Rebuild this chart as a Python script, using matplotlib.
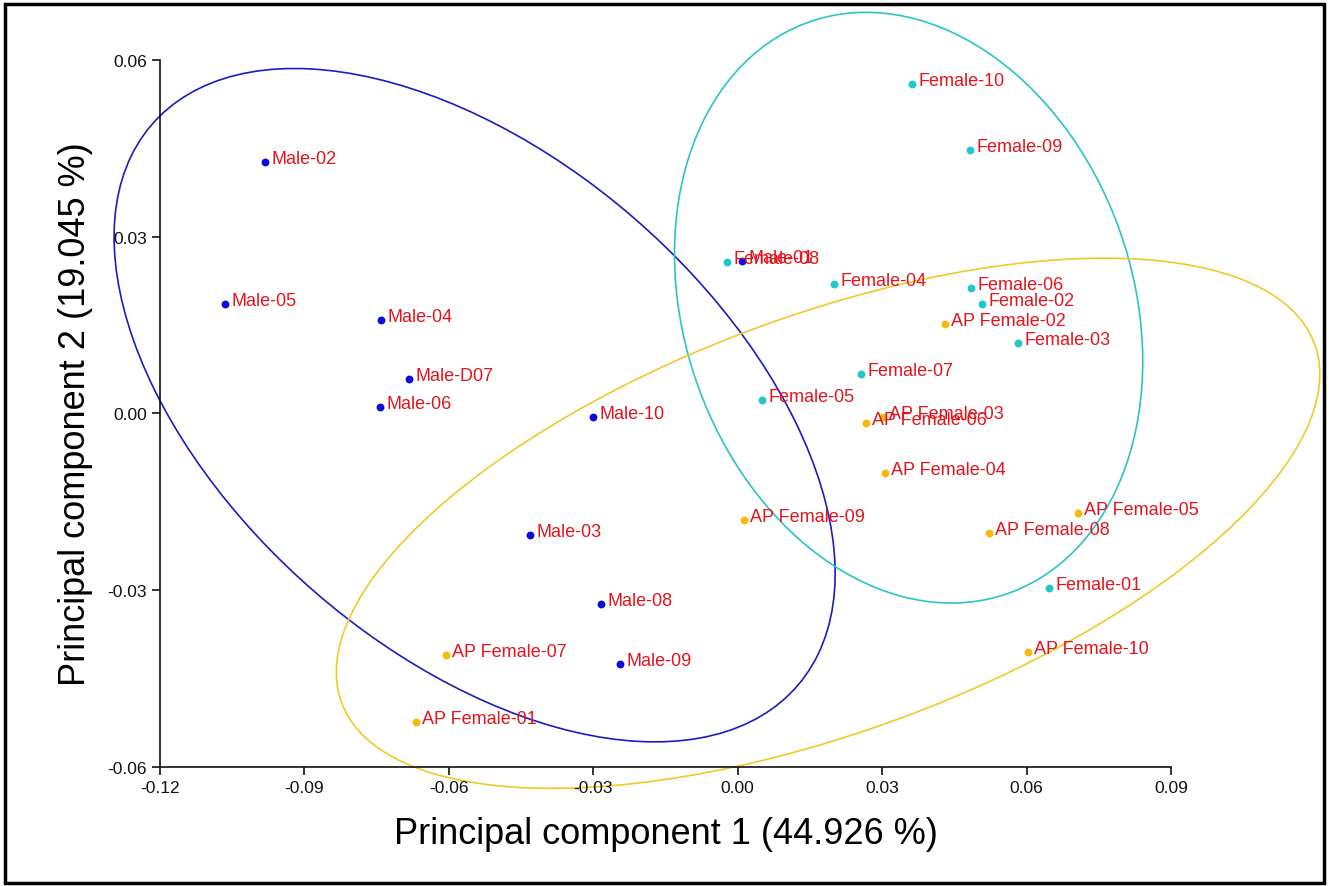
# PCA score plot with 90 % confidence ellipses per group
import numpy as np
import matplotlib
matplotlib.use("Agg")
import matplotlib.pyplot as plt
from matplotlib.patches import Ellipse, Rectangle

plt.rcParams['font.family'] = ['Liberation Sans', 'DejaVu Sans']

# Group data (PC1, PC2)
male_names = ['Male-01', 'Male-02', 'Male-03', 'Male-04', 'Male-05', 'Male-06',
              'Male-D07', 'Male-08', 'Male-09', 'Male-10']
male_pc1 = [0.0009, -0.0982, -0.0431, -0.0741, -0.1065, -0.0743, -0.0683, -0.0284, -0.0244, -0.0301]
male_pc2 = [0.0259, 0.0427, -0.0206, 0.0159, 0.0186, 0.0011, 0.0059, -0.0323, -0.0425, -0.0006]

female_names = ['Female-01', 'Female-02', 'Female-03', 'Female-04', 'Female-05',
                'Female-06', 'Female-07', 'Female-08', 'Female-09', 'Female-10']
female_pc1 = [0.0647, 0.0507, 0.0582, 0.0200, 0.0050, 0.0485, 0.0256, -0.0022, 0.0483, 0.0362]
female_pc2 = [-0.0296, 0.0186, 0.0120, 0.0220, 0.0023, 0.0213, 0.0067, 0.0257, 0.0447, 0.0559]

ap_names = ['AP Female-01', 'AP Female-02', 'AP Female-03', 'AP Female-04', 'AP Female-05',
            'AP Female-06', 'AP Female-07', 'AP Female-08', 'AP Female-09', 'AP Female-10']
ap_pc1 = [-0.0668, 0.0431, 0.0302, 0.0306, 0.0707, 0.0267, -0.0606, 0.0522, 0.0013, 0.0603]
ap_pc2 = [-0.0524, 0.0152, -0.0006, -0.0101, -0.0169, -0.0016, -0.0410, -0.0203, -0.0181, -0.0405]

x_ticks = [-0.12, -0.09, -0.06, -0.03, 0.00, 0.03, 0.06, 0.09]
y_ticks = [-0.06, -0.03, 0.00, 0.03, 0.06]

groups = [
    (male_names, male_pc1, male_pc2, '#0a0ae0', '#1c1cc0'),
    (female_names, female_pc1, female_pc2, '#1ec8c8', '#2cc4c4'),
    (ap_names, ap_pc1, ap_pc2, '#f7b90a', '#f2c92a'),
]

# 90 % confidence (chi-square, 2 dof)
k = np.sqrt(-2 * np.log(1 - 0.90))


def conf_ellipse(ax, x, y, color):
    x = np.asarray(x)
    y = np.asarray(y)
    cov = np.cov(x, y)
    vals, vecs = np.linalg.eigh(cov)
    order = vals.argsort()[::-1]
    vals, vecs = vals[order], vecs[:, order]
    angle = np.degrees(np.arctan2(vecs[1, 0], vecs[0, 0]))
    e = Ellipse((x.mean(), y.mean()), 2 * k * np.sqrt(vals[0]), 2 * k * np.sqrt(vals[1]),
                angle=angle, facecolor='none', edgecolor=color, lw=1.2,
                clip_on=False, zorder=1)
    ax.add_patch(e)


fig = plt.figure(figsize=(13.29, 8.87), dpi=100)
ax = fig.add_axes([0.1204, 0.1342, 0.7607, 0.7970])

for names, px, py, dot_col, ell_col in groups:
    conf_ellipse(ax, px, py, ell_col)
    ax.scatter(px, py, s=32, color=dot_col, zorder=3, clip_on=False, linewidths=0)
    for n, a, b in zip(names, px, py):
        ax.annotate(n, (a, b), xytext=(4.5, 2.5), textcoords='offset points',
                    fontsize=13, color='#e3141c', zorder=4, va='center', ha='left')

ax.set_xlim(-0.12, 0.09)
ax.set_ylim(-0.06, 0.06)
ax.set_xticks(x_ticks)
ax.set_yticks(y_ticks)
ax.set_xticklabels(['%.2f' % v for v in x_ticks])
ax.set_yticklabels(['%.2f' % v for v in y_ticks])
ax.tick_params(direction='out', length=6, width=1.2, labelsize=12.5, colors='#111111')
for s in ['top', 'right']:
    ax.spines[s].set_visible(False)
for s in ['left', 'bottom']:
    ax.spines[s].set_linewidth(1.2)
    ax.spines[s].set_color('#111111')

ax.set_xlabel('Principal component 1 (44.926 %)', fontsize=26, labelpad=15)
ax.set_ylabel('Principal component 2 (19.045 %)', fontsize=26, labelpad=10)

# frame round the whole picture
fig.patches.append(Rectangle((0.004, 0.003), 0.992, 0.991, transform=fig.transFigure,
                             fill=False, edgecolor='black', lw=2.5))

fig.savefig('out.png', dpi=100)
